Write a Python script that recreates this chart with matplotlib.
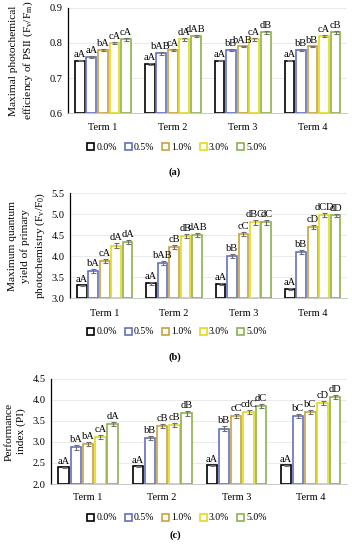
import matplotlib
matplotlib.use("Agg")
import matplotlib.pyplot as plt
import matplotlib.transforms as mtransforms
from matplotlib.patches import Patch
import numpy as np

plt.rcParams["font.family"] = ["Liberation Serif", "DejaVu Serif"]

terms = ["Term 1", "Term 2", "Term 3", "Term 4"]
treatments = ["0.0%", "0.5%", "1.0%", "3.0%", "5.0%"]
colors = ["#000000", "#6470C4", "#C8A23C", "#E0DC1E", "#8CB04E"]

# panel a: Fv/Fm, rows = treatments, cols = terms
fvfm = [
    [0.75, 0.74, 0.75, 0.75],
    [0.76, 0.77, 0.78, 0.78],
    [0.78, 0.78, 0.79, 0.79],
    [0.80, 0.81, 0.81, 0.82],
    [0.81, 0.82, 0.83, 0.83],
]
fvfm_err = [
    [0.002, 0.002, 0.002, 0.002],
    [0.003, 0.003, 0.003, 0.003],
    [0.002, 0.002, 0.002, 0.002],
    [0.003, 0.003, 0.003, 0.003],
    [0.003, 0.003, 0.003, 0.003],
]
fvfm_lbl = [
    ["aA", "aA", "aA", "aA"],
    ["aA", "bAB", "bB", "bB"],
    ["bA", "cA", "bAB", "bB"],
    ["cA", "dA", "cA", "cA"],
    ["cA", "dAB", "dB", "cB"],
]

# panel b: Fv/F0
fvf0 = [
    [3.30, 3.35, 3.33, 3.22],
    [3.65, 3.83, 4.00, 4.10],
    [3.88, 4.22, 4.53, 4.70],
    [4.25, 4.48, 4.80, 4.98],
    [4.33, 4.50, 4.80, 4.97],
]
fvf0_err = [
    [0.02, 0.03, 0.03, 0.03],
    [0.05, 0.05, 0.05, 0.05],
    [0.05, 0.05, 0.05, 0.05],
    [0.05, 0.05, 0.05, 0.04],
    [0.05, 0.05, 0.05, 0.04],
]
fvf0_lbl = [
    ["aA", "aA", "aA", "aA"],
    ["bA", "bAB", "bB", "bB"],
    ["cA", "cB", "cC", "cD"],
    ["dA", "dB", "dBC", "dCD"],
    ["dA", "dAB", "dC", "dD"],
]

# panel c: PI
pi = [
    [2.40, 2.42, 2.45, 2.45],
    [2.87, 3.10, 3.32, 3.62],
    [2.95, 3.38, 3.62, 3.72],
    [3.12, 3.40, 3.72, 3.93],
    [3.42, 3.68, 3.86, 4.07],
]
pi_err = [
    [0.01, 0.01, 0.01, 0.01],
    [0.05, 0.05, 0.05, 0.05],
    [0.05, 0.05, 0.05, 0.05],
    [0.05, 0.05, 0.05, 0.05],
    [0.05, 0.05, 0.05, 0.05],
]
pi_lbl = [
    ["aA", "aA", "aA", "aA"],
    ["bA", "bB", "bB", "bC"],
    ["bA", "cB", "cC", "bC"],
    ["cA", "cB", "cdC", "cD"],
    ["dA", "dB", "dC", "dD"],
]

fig = plt.figure(figsize=(3.52, 5.5), dpi=100)


def panel(rect, vals, errs, lbls, ylim, yticks, ylabel, ylabel_x, term_y, leg_y, cap, cap_y):
    ax = fig.add_axes(rect)
    x = np.arange(len(terms))
    step = 0.165
    w = 0.14
    for i, t in enumerate(treatments):
        xs = x + (i - 2) * step
        ax.bar(xs, np.array(vals[i]) - ylim[0], bottom=ylim[0], width=w,
               facecolor="white", edgecolor=colors[i], linewidth=1.2, zorder=2)
        ax.errorbar(xs, vals[i], yerr=errs[i], fmt="none", ecolor="#707070",
                    elinewidth=0.8, capsize=1.8, capthick=0.8, zorder=3)
        for j in range(len(terms)):
            ax.text(xs[j], vals[i][j] + errs[i][j] + (ylim[1] - ylim[0]) * 0.01,
                    lbls[i][j], ha="center", va="bottom", fontsize=7.5, zorder=4)
    ax.set_xlim(-0.5, len(terms) - 0.5)
    ax.set_ylim(*ylim)
    ax.set_yticks(yticks)
    ax.set_yticklabels([f"{v:.1f}" for v in yticks], fontsize=7.5)
    ax.set_xticks([])
    ax.grid(axis="y", color="#e6e6e6", linewidth=0.6, zorder=0)
    ax.set_axisbelow(True)
    for s in ["top", "right"]:
        ax.spines[s].set_visible(False)
    ax.spines["bottom"].set_color("#bfbfbf")
    ax.spines["bottom"].set_linewidth(0.6)
    ax.spines["left"].set_linewidth(0.9)
    ax.tick_params(axis="y", length=0, pad=4)
    trans = mtransforms.blended_transform_factory(ax.transData, fig.transFigure)
    for j, t in enumerate(terms):
        ax.text(x[j], term_y, t, transform=trans, ha="center", va="center",
                fontsize=7.5, clip_on=False)
    fig.text(ylabel_x, rect[1] + rect[3] / 2, ylabel, rotation=90, ha="center", va="center",
             fontsize=8.2, linespacing=1.4)
    handles = [Patch(facecolor="white", edgecolor=c, linewidth=1.2, label=t)
               for c, t in zip(colors, treatments)]
    fig.legend(handles=handles, loc="center", bbox_to_anchor=(0.503, leg_y), ncol=5,
               frameon=False, fontsize=7, handlelength=0.7, handleheight=0.7,
               handletextpad=0.25, columnspacing=0.8)
    fig.text(0.497, cap_y, cap, ha="center", va="center", fontsize=7.5, fontweight="bold")
    return ax


panel([0.193, 0.7945, 0.794, 0.191], fvfm, fvfm_err, fvfm_lbl, (0.6, 0.9),
      [0.6, 0.7, 0.8, 0.9],
      "Maximal photochemical\nefficiency of PSII (F$_\\mathregular{v}$/F$_\\mathregular{m}$)",
      0.062, 1 - 127 / 550, 1 - 147 / 550, "(a)", 1 - 172 / 550)

panel([0.199, 0.458, 0.788, 0.191], fvf0, fvf0_err, fvf0_lbl, (3.0, 5.5),
      [3.0, 3.5, 4.0, 4.5, 5.0, 5.5],
      "Maximum quantum\nyield of primary\nphotochemistry (F$_\\mathregular{v}$/F$_\\mathregular{0}$)",
      0.078, 1 - 313 / 550, 1 - 332 / 550, "(b)", 1 - 357 / 550)

panel([0.145, 0.12, 0.842, 0.191], pi, pi_err, pi_lbl, (2.0, 4.5),
      [2.0, 2.5, 3.0, 3.5, 4.0, 4.5],
      "Performance\nindex (PI)",
      0.043, 1 - 497 / 550, 1 - 518 / 550, "(c)", 1 - 535 / 550)

fig.savefig("out.png", dpi=100)
